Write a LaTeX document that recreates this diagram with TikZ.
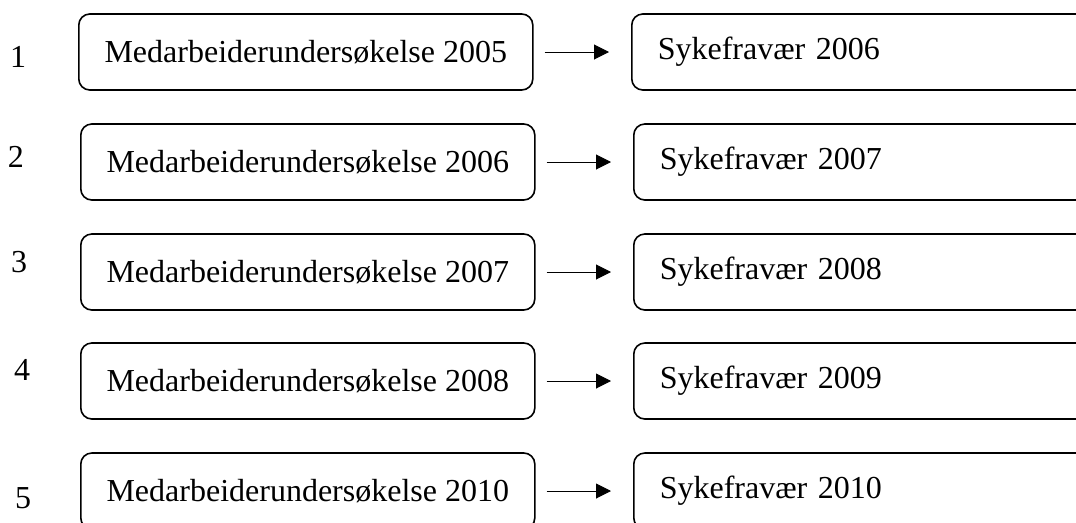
\documentclass[tikz,border=0pt]{standalone}
\usepackage{fontspec}
\setmainfont{Liberation Serif}
\usetikzlibrary{arrows.meta}

\begin{document}
\begin{tikzpicture}[x=1pt, y=-1pt,
  survey/.style={draw, line width=1.6pt, rounded corners=11pt,
    minimum width=454pt, minimum height=76pt, inner sep=0pt,
    font=\fontsize{32}{38}\selectfont},
  absence/.style={draw, line width=1.6pt, rounded corners=11pt,
    text width=450pt, inner xsep=26pt, inner ysep=0pt, minimum height=76pt,
    align=left, font=\fontsize{32}{38}\selectfont},
  rownum/.style={inner sep=0pt, font=\fontsize{32}{38}\selectfont},
  link/.style={-{Triangle[length=15pt,width=15pt]}, line width=1pt,
    shorten <=11pt, shorten >=22pt}]

  % Page size of the reference
  \useasboundingbox (0,0) rectangle (1076,522);
  \clip (0,0) rectangle (1076,522);

  % Rows: number, centre y, number x/y, left x of both boxes, years
  \foreach \n/\yc/\xn/\yn/\xl/\xr/\ys/\ya in {
      1/52/18/57/78/631/2005/2006,
      2/162/16/157/80/633/2006/2007,
      3/272/19/262/80/633/2007/2008,
      4/381/22/370/80/633/2008/2009,
      5/491/23/498/80/633/2010/2010}{
    \node[rownum] (n\n) at (\xn,\yn) {\n};
    \node[survey, anchor=west] (m\n) at (\xl,\yc) {Medarbeiderundersøkelse \ys};
    \node[absence, anchor=west] (s\n) at (\xr,\yc) {Sykefravær \ya};
    \draw[link] (m\n) -- (s\n);
  }

\end{tikzpicture}
\end{document}
